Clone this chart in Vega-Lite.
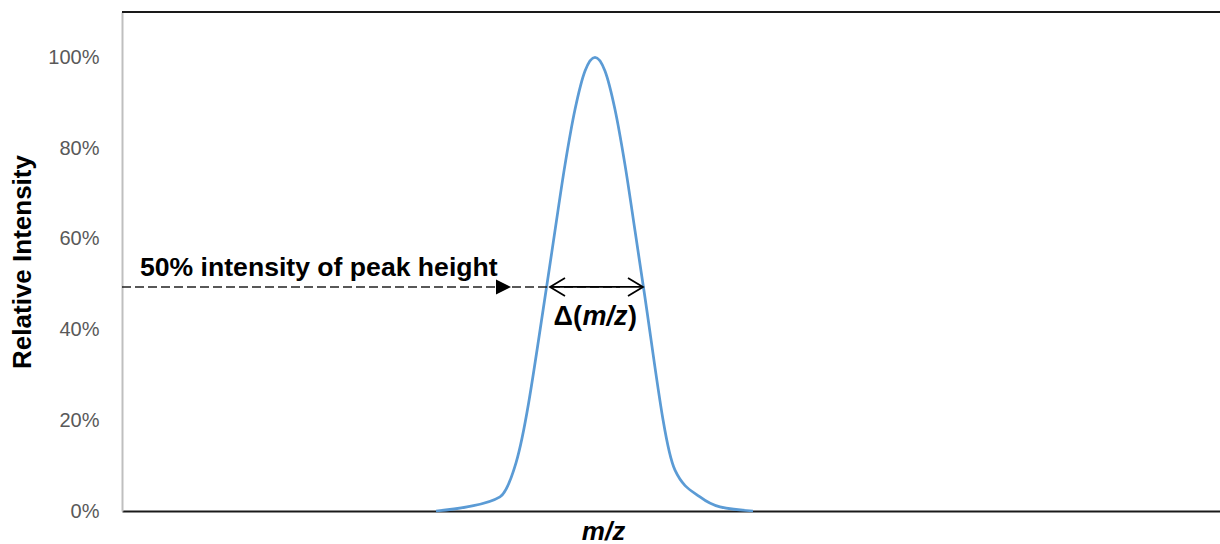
{
  "$schema": "https://vega.github.io/schema/vega-lite/v6.json",
  "width": 1098,
  "height": 499,
  "autosize": {"type": "none"},
  "padding": {"left": 122, "top": 12, "right": 0, "bottom": 33},
  "background": "white",
  "config": {"view": {"stroke": null}, "font": "Liberation Sans"},
  "data": {"values": [
    {"mz": 314, "intensity": 0},
    {"mz": 345, "intensity": 0.009},
    {"mz": 378, "intensity": 0.031},
    {"mz": 394, "intensity": 0.106},
    {"mz": 425, "intensity": 0.5},
    {"mz": 433, "intensity": 0.618},
    {"mz": 443, "intensity": 0.763},
    {"mz": 453, "intensity": 0.885},
    {"mz": 463, "intensity": 0.97},
    {"mz": 473, "intensity": 1.0},
    {"mz": 483, "intensity": 0.97},
    {"mz": 493, "intensity": 0.885},
    {"mz": 503, "intensity": 0.763},
    {"mz": 513, "intensity": 0.618},
    {"mz": 521, "intensity": 0.5},
    {"mz": 553, "intensity": 0.09},
    {"mz": 578, "intensity": 0.031},
    {"mz": 598, "intensity": 0.009},
    {"mz": 631, "intensity": 0}
  ]},
  "layer": [
    {
      "mark": {"type": "line", "interpolate": "monotone", "color": "#5B9BD5", "strokeWidth": 2.75},
      "encoding": {
        "x": {"field": "mz", "type": "quantitative", "scale": {"domain": [0, 1098], "nice": false, "zero": false},
          "axis": {"title": "m/z", "labels": false, "ticks": false, "grid": false, "domainColor": "#1a1a1a", "domainWidth": 2,
            "titleFontSize": 26, "titleFontWeight": "bold", "titleFontStyle": "italic", "titleColor": "black",
            "titleX": 481, "titleY": 28, "titleAlign": "center", "titleBaseline": "alphabetic"}},
        "y": {"field": "intensity", "type": "quantitative", "scale": {"domain": [0, 1.1], "nice": false},
          "axis": {"title": "Relative Intensity", "values": [0, 0.2, 0.4, 0.6, 0.8, 1], "format": ".0%", "grid": false, "ticks": false,
            "labelFontSize": 20, "labelColor": "#595959", "labelPadding": 23, "domainColor": "#BFBFBF", "domainWidth": 2,
            "titleFontSize": 26, "titleFontWeight": "bold", "titleColor": "black", "titleX": -100, "titleY": 249.5,
            "titleAngle": -90, "titleAlign": "center", "titleBaseline": "middle"}}
      }
    },
    {
      "data": {"values": [{"top": 1.1}]},
      "mark": {"type": "rule", "color": "#1a1a1a", "strokeWidth": 2},
      "encoding": {"y": {"field": "top", "type": "quantitative"}}
    },
    {
      "data": {"values": [{"start": 0, "end": 498, "level": 0.494}]},
      "mark": {"type": "rule", "color": "#222222", "strokeWidth": 1.5, "strokeDash": [9, 4]},
      "encoding": {
        "x": {"field": "start", "type": "quantitative"},
        "x2": {"field": "end"},
        "y": {"field": "level", "type": "quantitative"}
      }
    },
    {
      "data": {"values": [{"tip": 389, "level": 0.494}]},
      "mark": {"type": "point", "shape": "M-2,-1L0,0L-2,1Z", "size": 225, "filled": true, "color": "black", "opacity": 1},
      "encoding": {
        "x": {"field": "tip", "type": "quantitative"},
        "y": {"field": "level", "type": "quantitative"}
      }
    },
    {
      "data": {"values": [{"start": 428, "end": 521, "level": 0.494}]},
      "mark": {"type": "rule", "color": "black", "strokeWidth": 1.75},
      "encoding": {
        "x": {"field": "start", "type": "quantitative"},
        "x2": {"field": "end"},
        "y": {"field": "level", "type": "quantitative"}
      }
    },
    {
      "data": {"values": [{"tip": 428, "level": 0.494}]},
      "mark": {"type": "point", "shape": "M2,-1.2L0,0L2,1.2", "size": 225, "filled": false, "color": "black", "strokeWidth": 1.75, "opacity": 1},
      "encoding": {
        "x": {"field": "tip", "type": "quantitative"},
        "y": {"field": "level", "type": "quantitative"}
      }
    },
    {
      "data": {"values": [{"tip": 521, "level": 0.494}]},
      "mark": {"type": "point", "shape": "M-2,-1.2L0,0L-2,1.2", "size": 225, "filled": false, "color": "black", "strokeWidth": 1.75, "opacity": 1},
      "encoding": {
        "x": {"field": "tip", "type": "quantitative"},
        "y": {"field": "level", "type": "quantitative"}
      }
    },
    {
      "data": {"values": [{"pos": 18, "level": 0.517, "label": "50% intensity of peak height"}]},
      "mark": {"type": "text", "align": "left", "baseline": "alphabetic", "fontSize": 26.6, "fontWeight": "bold", "color": "black"},
      "encoding": {
        "x": {"field": "pos", "type": "quantitative"},
        "y": {"field": "level", "type": "quantitative"},
        "text": {"field": "label"}
      }
    },
    {
      "data": {"values": [{"pos": 460, "level": 0.41, "label": "Δ("}]},
      "mark": {"type": "text", "align": "right", "baseline": "alphabetic", "fontSize": 27, "fontWeight": "bold", "color": "black"},
      "encoding": {
        "x": {"field": "pos", "type": "quantitative"},
        "y": {"field": "level", "type": "quantitative"},
        "text": {"field": "label"}
      }
    },
    {
      "data": {"values": [{"pos": 483, "level": 0.41, "label": "m/z"}]},
      "mark": {"type": "text", "align": "center", "baseline": "alphabetic", "fontSize": 27, "fontWeight": "bold", "fontStyle": "italic", "color": "black"},
      "encoding": {
        "x": {"field": "pos", "type": "quantitative"},
        "y": {"field": "level", "type": "quantitative"},
        "text": {"field": "label"}
      }
    },
    {
      "data": {"values": [{"pos": 506, "level": 0.41, "label": ")"}]},
      "mark": {"type": "text", "align": "left", "baseline": "alphabetic", "fontSize": 27, "fontWeight": "bold", "color": "black"},
      "encoding": {
        "x": {"field": "pos", "type": "quantitative"},
        "y": {"field": "level", "type": "quantitative"},
        "text": {"field": "label"}
      }
    }
  ]
}
